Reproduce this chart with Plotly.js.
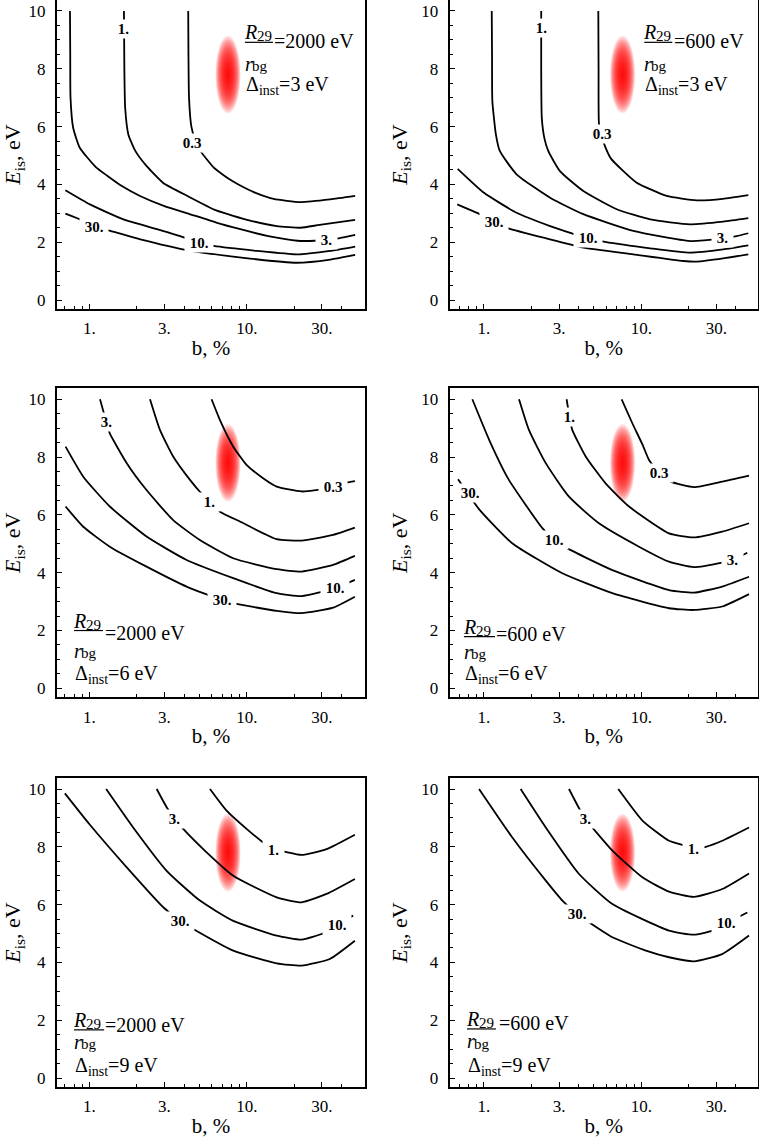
<!DOCTYPE html>
<html><head><meta charset="utf-8">
<script src="https://cdn.plot.ly/plotly-3.0.1.min.js"></script>
<style>html,body{margin:0;padding:0;background:#fff}</style>
</head><body><div id="chart" style="width:759px;height:1141px"></div>
<script>
// ---------------- data ----------------
const xTickVals = [1, 3, 10, 30];
const xTickText = ['1.', '3.', '10.', '30.'];
const xMinorVals = [0.7, 0.8, 0.9, 2, 4, 5, 6, 7, 8, 9, 20, 40];
const yTickVals = [0, 2, 4, 6, 8, 10];
const levelText = ['0.3', '1.', '3.', '10.', '30.'];
const ratioVals = [2000, 600, 2000, 600, 2000, 600];
const deltaVals = [3, 3, 6, 6, 9, 9];
const blobB = 7.6, blobE = 7.8;

// Panel 1: R29/rbg = 2000 eV, Δinst = 3 eV
const p1_c03_b = [4.25, 4.3, 4.45, 4.75, 5.07, 6.13, 7.13, 8.2, 9.55, 11.0, 14.8, 21.9, 33.9, 48.8];
const p1_c03_E = [10, 7.0, 6.0, 5.45, 5.16, 4.6, 4.32, 4.1, 3.9, 3.74, 3.5, 3.39, 3.48, 3.6];
const p1_c1_b = [1.66, 1.67, 1.69, 1.77, 1.96, 2.3, 2.95, 4.2, 6.4, 10.5, 15.5, 22, 29, 48.8];
const p1_c1_E = [10, 8, 6.65, 5.73, 5.16, 4.65, 4.05, 3.6, 3.1, 2.75, 2.56, 2.5, 2.6, 2.77];
const p1_c3_b = [0.754, 0.757, 0.76, 0.79, 0.87, 1.1, 1.3, 1.6, 2.1, 3.0, 4.2, 6.4, 9.1, 14, 21, 27, 32, 39, 48.8];
const p1_c3_E = [10, 8.5, 7.0, 5.96, 5.27, 4.6, 4.3, 3.95, 3.6, 3.25, 3.0, 2.68, 2.45, 2.2, 2.05, 2.05, 2.08, 2.14, 2.25];
const p1_c10_b = [0.705, 1.01, 1.65, 2.69, 4.17, 4.95, 6.17, 11.6, 20.8, 33.9, 48.8];
const p1_c10_E = [3.80, 3.31, 2.79, 2.45, 2.13, 1.98, 1.87, 1.70, 1.58, 1.70, 1.85];
const p1_c30_b = [0.705, 0.90, 1.07, 1.36, 2.11, 4.17, 9.55, 20.8, 33.9, 48.8];
const p1_c30_E = [2.99, 2.76, 2.53, 2.39, 2.10, 1.73, 1.46, 1.29, 1.40, 1.56];
const p1_lab_b = [4.5, 1.66, 32.3, 4.95, 1.07];
const p1_lab_E = [5.44, 9.37, 2.07, 1.98, 2.53];

// Panel 2: R29/rbg = 600 eV, Δinst = 3 eV
const p2_c03_b = [5.33, 5.35, 5.38, 5.55, 5.85, 6.4, 7.69, 9.35, 14.5, 22.5, 33, 47.9];
const p2_c03_E = [10, 8, 6.1, 5.75, 5.35, 4.9, 4.46, 4.06, 3.6, 3.45, 3.5, 3.63];
const p2_c1_b = [2.31, 2.31, 2.33, 2.42, 2.56, 3.04, 4.28, 6.98, 11.4, 20.4, 33.2, 47.9];
const p2_c1_E = [10, 8, 6.3, 5.6, 5.16, 4.46, 3.77, 3.14, 2.79, 2.62, 2.71, 2.83];
const p2_c3_b = [1.12, 1.125, 1.13, 1.19, 1.26, 1.61, 2.63, 4.28, 8.9, 20.4, 32.7, 40.4, 47.9];
const p2_c3_E = [10, 8.5, 6.89, 5.73, 5.16, 4.35, 3.54, 2.97, 2.39, 2.04, 2.13, 2.21, 2.31];
const p2_c10_b = [0.68, 1.0, 1.61, 2.63, 3.70, 4.6, 5.88, 11.4, 20.4, 33.2, 47.9];
const p2_c10_E = [4.54, 3.71, 3.02, 2.56, 2.29, 2.13, 2.01, 1.79, 1.64, 1.75, 1.89];
const p2_c30_b = [0.676, 0.94, 1.15, 1.43, 2.63, 4.28, 8.9, 18.5, 22.5, 33.2, 47.9];
const p2_c30_E = [3.31, 2.97, 2.70, 2.48, 2.10, 1.81, 1.58, 1.35, 1.33, 1.44, 1.58];
const p2_lab_b = [5.6, 2.31, 32.7, 4.6, 1.15];
const p2_lab_E = [5.73, 9.42, 2.13, 2.13, 2.70];

// Panel 3: R29/rbg = 2000 eV, Δinst = 6 eV
const p3_c03_b = [5.98, 6.76, 8.21, 9.97, 12.7, 15.5, 22.3, 35.4, 43.0, 48.6];
const p3_c03_E = [10, 9.28, 8.36, 7.73, 7.27, 6.98, 6.81, 6.95, 7.12, 7.17];
const p3_c1_b = [2.43, 2.81, 3.41, 4.36, 5.04, 5.84, 6.76, 9.05, 15.5, 22.3, 35.4, 48.6];
const p3_c1_E = [10, 8.94, 8.02, 7.21, 6.80, 6.46, 6.11, 5.77, 5.16, 5.11, 5.31, 5.56];
const p3_c3_b = [1.17, 1.28, 1.35, 1.73, 2.31, 3.41, 5.04, 8.21, 15.5, 22.3, 35.4, 48.6];
const p3_c3_E = [10, 9.23, 8.82, 7.79, 6.86, 5.82, 5.13, 4.50, 4.12, 4.04, 4.27, 4.58];
const p3_c10_b = [0.707, 0.916, 1.35, 2.31, 4.15, 8.21, 15.5, 22.3, 36.3, 48.6];
const p3_c10_E = [8.36, 7.32, 6.29, 5.25, 4.44, 3.81, 3.29, 3.19, 3.46, 3.75];
const p3_c30_b = [0.707, 0.916, 1.35, 2.31, 4.15, 6.92, 8.62, 15.5, 22.3, 35.4, 48.6];
const p3_c30_E = [6.29, 5.59, 4.90, 4.21, 3.52, 3.06, 2.92, 2.68, 2.60, 2.79, 3.17];
const p3_lab_b = [35.4, 5.84, 1.28, 36.3, 6.92];
const p3_lab_E = [6.95, 6.46, 9.23, 3.46, 3.06];

// Panel 4: R29/rbg = 600 eV, Δinst = 6 eV
const p4_c03_b = [7.50, 8.77, 10.2, 11.2, 13.0, 15.4, 21.6, 32.7, 48.4];
const p4_c03_E = [10, 9.17, 8.42, 7.90, 7.46, 7.15, 6.96, 7.15, 7.36];
const p4_c1_b = [3.35, 3.50, 3.64, 4.43, 5.93, 8.35, 15.0, 21.6, 32.7, 48.4];
const p4_c1_E = [10, 9.38, 8.94, 8.02, 7.09, 6.29, 5.36, 5.22, 5.42, 5.71];
const p4_c3_b = [1.67, 1.93, 2.47, 3.47, 5.38, 9.67, 15.0, 21.6, 32.7, 37.9, 47.2];
const p4_c3_E = [10, 8.94, 7.79, 6.63, 5.71, 4.90, 4.38, 4.19, 4.35, 4.44, 4.69];
const p4_c10_b = [0.843, 1.08, 1.44, 2.35, 2.79, 3.39, 6.55, 15.0, 21.6, 32.7, 48.4];
const p4_c10_E = [10, 8.59, 7.21, 5.54, 5.13, 4.84, 4.09, 3.40, 3.31, 3.52, 3.86];
const p4_c30_b = [0.684, 0.929, 1.51, 3.15, 6.55, 15.0, 21.6, 32.7, 48.4];
const p4_c30_E = [7.23, 6.2, 5.02, 3.98, 3.29, 2.77, 2.71, 2.83, 3.26];
const p4_lab_b = [13.0, 3.50, 37.9, 2.79, 0.811];
const p4_lab_E = [7.46, 9.38, 4.44, 5.13, 6.77];

// Panel 5: R29/rbg = 2000 eV, Δinst = 9 eV (no 0.3 contour)
const p5_c1_b = [5.84, 7.45, 9.97, 12.7, 14.7, 17.0, 22.3, 32.1, 48.6];
const p5_c1_E = [10, 9.25, 8.62, 8.15, 7.89, 7.84, 7.72, 7.92, 8.42];
const p5_c3_b = [2.68, 3.10, 3.50, 3.95, 5.56, 8.21, 15.5, 22.3, 32.1, 48.6];
const p5_c3_E = [10, 9.37, 8.96, 8.62, 7.81, 7.00, 6.25, 6.08, 6.37, 6.89];
const p5_c10_b = [1.28, 1.90, 3.10, 5.04, 8.21, 15.5, 22.3, 30.6, 37.2, 47.4];
const p5_c10_E = [10, 8.67, 7.17, 6.14, 5.44, 4.93, 4.79, 5.01, 5.31, 5.62];
const p5_c30_b = [0.70, 1.0, 1.73, 2.95, 3.76, 4.57, 8.21, 15.5, 22.3, 33.7, 48.6];
const p5_c30_E = [9.85, 8.79, 7.29, 5.91, 5.44, 5.16, 4.41, 3.97, 3.89, 4.12, 4.75];
const p5_lab_b = [null, 14.7, 3.50, 37.2, 3.76];
const p5_lab_E = [null, 7.89, 8.96, 5.31, 5.44];

// Panel 6: R29/rbg = 600 eV, Δinst = 9 eV (no 0.3 contour)
const p6_c1_b = [7.14, 10.2, 15.0, 19.1, 21.6, 25.7, 32.7, 48.4];
const p6_c1_E = [10, 8.90, 8.21, 8.04, 7.92, 8.00, 8.21, 8.67];
const p6_c3_b = [3.47, 4.39, 4.88, 6.55, 10.2, 15.0, 21.6, 32.7, 48.4];
const p6_c3_E = [10, 8.96, 8.67, 7.87, 6.94, 6.45, 6.27, 6.54, 7.08];
const p6_c10_b = [1.71, 2.47, 4.02, 6.55, 15.0, 21.6, 28.3, 34.4, 47.2];
const p6_c10_E = [10, 8.67, 7.06, 6.02, 5.10, 4.96, 5.10, 5.35, 5.73];
const p6_c30_b = [0.93, 1.51, 2.47, 3.15, 3.92, 4.77, 6.55, 10.7, 15.0, 21.6, 32.7, 48.4];
const p6_c30_E = [10, 8.33, 6.83, 6.14, 5.67, 5.35, 4.87, 4.41, 4.18, 4.04, 4.29, 4.93];
const p6_lab_b = [null, 21.6, 4.39, 34.4, 3.92];
const p6_lab_E = [null, 7.92, 8.96, 5.35, 5.67];

// ---------------- assembly ----------------
const panels = [
  {curves: [[p1_c03_b, p1_c03_E], [p1_c1_b, p1_c1_E], [p1_c3_b, p1_c3_E], [p1_c10_b, p1_c10_E], [p1_c30_b, p1_c30_E]], lb: p1_lab_b, lE: p1_lab_E},
  {curves: [[p2_c03_b, p2_c03_E], [p2_c1_b, p2_c1_E], [p2_c3_b, p2_c3_E], [p2_c10_b, p2_c10_E], [p2_c30_b, p2_c30_E]], lb: p2_lab_b, lE: p2_lab_E},
  {curves: [[p3_c03_b, p3_c03_E], [p3_c1_b, p3_c1_E], [p3_c3_b, p3_c3_E], [p3_c10_b, p3_c10_E], [p3_c30_b, p3_c30_E]], lb: p3_lab_b, lE: p3_lab_E},
  {curves: [[p4_c03_b, p4_c03_E], [p4_c1_b, p4_c1_E], [p4_c3_b, p4_c3_E], [p4_c10_b, p4_c10_E], [p4_c30_b, p4_c30_E]], lb: p4_lab_b, lE: p4_lab_E},
  {curves: [null, [p5_c1_b, p5_c1_E], [p5_c3_b, p5_c3_E], [p5_c10_b, p5_c10_E], [p5_c30_b, p5_c30_E]], lb: p5_lab_b, lE: p5_lab_E},
  {curves: [null, [p6_c1_b, p6_c1_E], [p6_c3_b, p6_c3_E], [p6_c10_b, p6_c10_E], [p6_c30_b, p6_c30_E]], lb: p6_lab_b, lE: p6_lab_E}
];

// styles / placement
const FONT = 'Liberation Serif';
const NB = '\u00a0';
const xDomains = [[0.0751, 0.4809], [0.5925, 0.9987]];
const xRanges = [[-0.205, 1.751], [-0.218, 1.742]];
const yDomains = [[0.7292, 1.0], [0.3889, 0.6597], [0.0473, 0.3181]];
const yRange = [-0.31, 10.38];
// bl/br: fraction bar ends, barY: bar height, eq/eqY: "=... eV" text, dY: Δ line, rOff: px from bar to r baseline
const textPos = [
  {bl: 0.610, br: 0.701, barY: 0.863, eq: 0.705, eqY: 0.867, dY: 0.723, rOff: 28},
  {bl: 0.631, br: 0.722, barY: 0.863, eq: 0.726, eqY: 0.867, dY: 0.723, rOff: 28},
  {bl: 0.055, br: 0.149, barY: 0.216, eq: 0.156, eqY: 0.207, dY: 0.073, rOff: 27},
  {bl: 0.046, br: 0.147, barY: 0.196, eq: 0.150, eqY: 0.205, dY: 0.073, rOff: 22},
  {bl: 0.055, br: 0.153, barY: 0.185, eq: 0.156, eqY: 0.202, dY: 0.066, rOff: 19},
  {bl: 0.056, br: 0.150, barY: 0.188, eq: 0.160, eqY: 0.206, dY: 0.066, rOff: 19}
];

const traces = [];
const annotations = [];
const shapes = [];
const layout = {
  width: 759, height: 1141,
  margin: {l: 0, r: 0, t: 0, b: 0},
  paper_bgcolor: 'white', plot_bgcolor: 'white',
  showlegend: false,
  font: {family: FONT, color: 'black'}
};

panels.forEach((p, i) => {
  const s = i === 0 ? '' : String(i + 1);
  const col = i % 2, row = Math.floor(i / 2);
  const xa = 'x' + s, ya = 'y' + s;

  layout['xaxis' + s] = {
    type: 'log', domain: xDomains[col], range: xRanges[col], anchor: ya,
    showgrid: false, zeroline: false, showline: true, mirror: true,
    linecolor: 'black', linewidth: 2,
    ticks: 'inside', ticklen: 5, tickwidth: 1, tickcolor: 'black',
    tickmode: 'array', tickvals: xTickVals, ticktext: xTickText,
    minor: {tickmode: 'array', tickvals: xMinorVals, ticks: 'inside', ticklen: 3, tickwidth: 1, tickcolor: 'black', showgrid: false},
    tickfont: {family: FONT, size: 17, color: 'black'},
    ticklabelstandoff: 3,
    title: {text: 'b, %', font: {family: FONT, size: 21, color: 'black'}, standoff: 3},
    fixedrange: true
  };
  layout['yaxis' + s] = {
    domain: yDomains[row], range: yRange, anchor: xa,
    showgrid: false, zeroline: false, showline: true, mirror: true,
    linecolor: 'black', linewidth: 2,
    ticks: 'inside', ticklen: 5, tickwidth: 1, tickcolor: 'black',
    tickmode: 'array', tickvals: yTickVals,
    minor: {tickmode: 'linear', tick0: 0, dtick: 0.5, ticks: 'inside', ticklen: 3, tickwidth: 1, tickcolor: 'black', showgrid: false},
    tickfont: {family: FONT, size: 17, color: 'black'},
    ticklabelstandoff: 6,
    title: {text: '<i>E</i><sub>is</sub>, eV', font: {family: FONT, size: 22, color: 'black'}, standoff: 8},
    fixedrange: true
  };

  // red blob (stacked translucent ellipses → soft gradient)
  const N = 30, Rx = 0.08, Ry = 1.35;
  for (let k = N; k >= 1; k--) {
    const f = k / N;
    shapes.push({
      type: 'circle', xref: xa, yref: ya, layer: 'below',
      x0: blobB / Math.pow(10, Rx * f), x1: blobB * Math.pow(10, Rx * f),
      y0: blobE - Ry * f, y1: blobE + Ry * f,
      fillcolor: 'rgba(255,0,0,0.085)', line: {width: 0}
    });
  }

  // contour lines
  p.curves.forEach((c, j) => {
    if (!c) return;
    traces.push({
      type: 'scatter', mode: 'lines', x: c[0], y: c[1], xaxis: xa, yaxis: ya,
      name: levelText[j],
      line: {color: 'black', width: 1.8, shape: 'spline', smoothing: 0.5},
      hoverinfo: 'skip'
    });
  });
  // contour labels
  p.lb.forEach((b, j) => {
    if (b === null) return;
    annotations.push({
      xref: xa, yref: ya, x: Math.log10(b), y: p.lE[j], text: '<b>' + NB + levelText[j] + NB + '</b>',
      showarrow: false, bgcolor: 'white', borderpad: 1,
      font: {family: FONT, size: 15, color: 'black'}
    });
  });

  // parameter text block: fraction R29 / r_bg, "=... eV", Δinst
  const t = textPos[i];
  const xd = xa + ' domain', yd = ya + ' domain';
  const big = {family: FONT, size: 20, color: 'black'};
  const small = {family: FONT, size: 15, color: 'black'};
  const common = {xref: xd, yref: yd, showarrow: false, borderpad: 0, borderwidth: 0};
  annotations.push(Object.assign({}, common, {x: t.bl, y: t.barY, xanchor: 'left', yanchor: 'bottom',
    xshift: -1, yshift: -1, text: '<i>R</i>', font: big}));
  annotations.push(Object.assign({}, common, {x: t.bl, y: t.barY, xanchor: 'left', yanchor: 'bottom',
    xshift: 12, yshift: -2, text: '29', font: small}));
  annotations.push(Object.assign({}, common, {x: t.bl, y: t.barY, xanchor: 'left', yanchor: 'top',
    xshift: 0, yshift: -(t.rOff - 17.8), text: '<i>r</i>', font: big}));
  annotations.push(Object.assign({}, common, {x: t.bl, y: t.barY, xanchor: 'left', yanchor: 'top',
    xshift: 7, yshift: -(t.rOff - 12.4), text: 'bg', font: small}));
  annotations.push(Object.assign({}, common, {x: t.eq, y: t.eqY, xanchor: 'left', yanchor: 'middle',
    text: '=' + ratioVals[i] + ' eV', font: big}));
  annotations.push(Object.assign({}, common, {x: t.bl, y: t.dY, xanchor: 'left', yanchor: 'middle',
    xshift: 1, text: 'Δ<sub>inst</sub>=' + deltaVals[i] + ' eV', font: big}));
  shapes.push({type: 'line', xref: xd, yref: yd, x0: t.bl, x1: t.br, y0: t.barY, y1: t.barY,
    line: {color: 'black', width: 1.2}});
});

layout.annotations = annotations;
layout.shapes = shapes;

Plotly.newPlot('chart', traces, layout, {staticPlot: true, displayModeBar: false});
</script></body></html>
